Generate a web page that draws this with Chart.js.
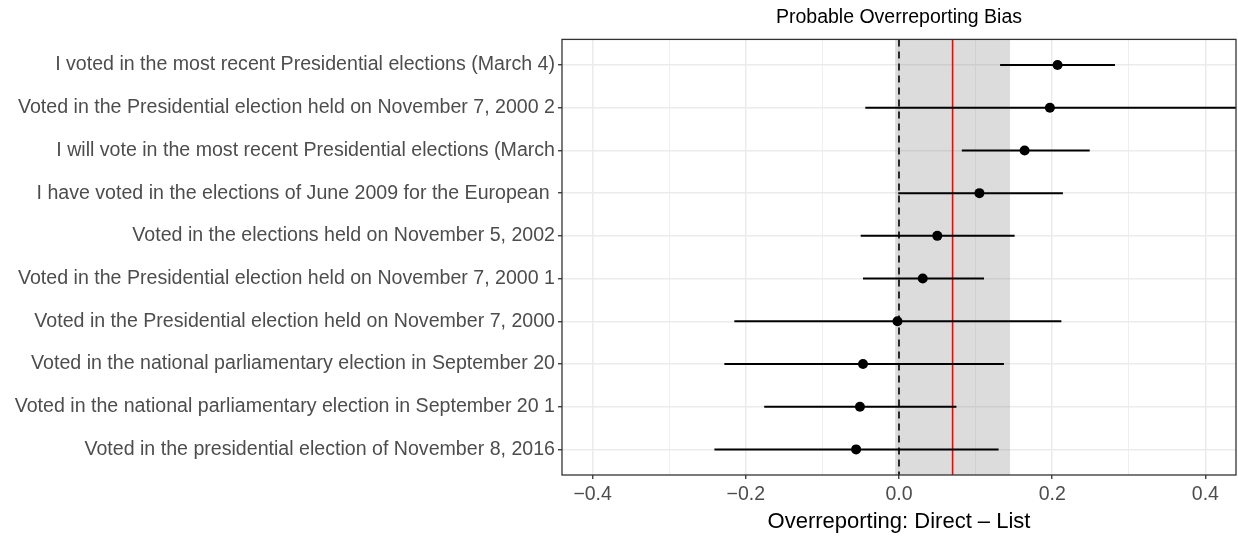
<!DOCTYPE html>
<html>
<head>
<meta charset="utf-8">
<script src="https://cdn.jsdelivr.net/npm/chart.js@4/dist/chart.umd.min.js"></script>
<style>
  html, body { margin: 0; padding: 0; background: #ffffff; }
  #wrap { width: 1238px; height: 540px; }
</style>
</head>
<body>
<div id="wrap"><canvas id="c" width="1238" height="540"></canvas></div>
<script>
// Survey items, listed bottom row first (order of the y axis levels)
const items = [
  "Voted in the presidential election of November 8, 2016",
  "Voted in the national parliamentary election in September 20 1",
  "Voted in the national parliamentary election in September 20",
  "Voted in the Presidential election held on November 7, 2000",
  "Voted in the Presidential election held on November 7, 2000 1",
  "Voted in the elections held on November 5, 2002",
  "I have voted in the elections of June 2009 for the European ",
  "I will vote in the most recent Presidential elections (March",
  "Voted in the Presidential election held on November 7, 2000 2",
  "I voted in the most recent Presidential elections (March 4)"
];

// Direct minus list estimate and its interval, per item
const estimate = [-0.056, -0.051, -0.047, -0.002, 0.031, 0.050, 0.105, 0.164, 0.197, 0.207];
const lower    = [-0.241, -0.176, -0.228, -0.215, -0.047, -0.050, -0.001, 0.082, -0.044, 0.132];
const upper    = [ 0.130,  0.075,  0.137,  0.212,  0.111,  0.151,  0.214, 0.249,  0.440, 0.282];

// Labelled x ticks and the unlabelled minor grid between them
const xMajorTicks = [-0.4, -0.2, 0.0, 0.2, 0.4];
const xMinorTicks = [-0.3, -0.1, 0.1, 0.3];

// Pooled bias estimate and its shaded interval
const meanBias = 0.07;
const biasBand = [-0.005, 0.145];

const FONT = '"Liberation Sans", Arial, Helvetica, sans-serif';

const isMajor = v => xMajorTicks.some(t => Math.abs(t - v) < 1e-9);
const fmtTick = v => (v < 0 ? '\u2212' : '') + Math.abs(v).toFixed(1);

const whiskerSets = items.map((_, i) => ({
  type: 'line',
  data: [{ x: lower[i], y: i + 1 }, { x: upper[i], y: i + 1 }],
  borderColor: '#000000',
  borderWidth: 2,
  pointRadius: 0,
  pointHoverRadius: 0,
  showLine: true,
  fill: false,
  clip: 0,
  order: 2
}));

const pointSet = {
  type: 'scatter',
  data: estimate.map((v, i) => ({ x: v, y: i + 1 })),
  backgroundColor: '#000000',
  borderWidth: 0,
  pointRadius: 5,
  pointHoverRadius: 5,
  order: 1
};

// Shaded band, zero line, mean line and panel frame
const panelDecor = {
  id: 'panelDecor',
  beforeDatasetsDraw(chart) {
    const { ctx, chartArea: a, scales: { x } } = chart;
    ctx.save();
    const b0 = x.getPixelForValue(biasBand[0]);
    const b1 = x.getPixelForValue(biasBand[1]);
    ctx.fillStyle = 'rgba(127,127,127,0.27)';
    ctx.fillRect(b0, a.top, b1 - b0, a.bottom - a.top);

    const z = x.getPixelForValue(0);
    ctx.strokeStyle = '#000000';
    ctx.lineWidth = 1.6;
    ctx.setLineDash([7, 5]);
    ctx.beginPath();
    ctx.moveTo(z, a.top);
    ctx.lineTo(z, a.bottom);
    ctx.stroke();

    const m = x.getPixelForValue(meanBias);
    ctx.setLineDash([]);
    ctx.strokeStyle = '#ff0000';
    ctx.lineWidth = 1.6;
    ctx.beginPath();
    ctx.moveTo(m, a.top);
    ctx.lineTo(m, a.bottom);
    ctx.stroke();
    ctx.restore();
  },
  afterDatasetsDraw(chart) {
    const { ctx, chartArea: a } = chart;
    ctx.save();
    ctx.strokeStyle = '#333333';
    ctx.lineWidth = 1.3;
    ctx.strokeRect(a.left, a.top, a.right - a.left, a.bottom - a.top);
    ctx.restore();
  }
};

new Chart(document.getElementById('c'), {
  type: 'scatter',
  data: { datasets: [pointSet, ...whiskerSets] },
  options: {
    responsive: false,
    animation: false,
    devicePixelRatio: 1,
    layout: { autoPadding: false, padding: { left: 0, right: 2, top: 0, bottom: 0 } },
    plugins: {
      legend: { display: false },
      tooltip: { enabled: false },
      title: {
        display: true,
        text: 'Probable Overreporting Bias',
        fullSize: false,
        color: '#000000',
        font: { family: FONT, size: 19.5, weight: 'normal' },
        padding: { top: 6, bottom: 10 }
      }
    },
    scales: {
      x: {
        type: 'linear',
        min: -0.44,
        max: 0.44,
        afterBuildTicks: s => {
          s.ticks = [...xMajorTicks, ...xMinorTicks].sort((a, b) => a - b).map(v => ({ value: v }));
        },
        afterFit: s => { s.height = 65; s.paddingLeft = 0; s.paddingRight = 0; },
        border: { display: false },
        grid: {
          color: '#EBEBEB',
          lineWidth: c => (c.tick && isMajor(c.tick.value) ? 1.5 : 0.8),
          tickColor: c => (c.tick && isMajor(c.tick.value) ? '#333333' : 'rgba(0,0,0,0)'),
          tickLength: 4,
          tickWidth: 1.3
        },
        ticks: {
          autoSkip: false,
          maxRotation: 0,
          color: '#4D4D4D',
          padding: 4,
          font: { family: FONT, size: 19.5 },
          callback: v => (isMajor(v) ? fmtTick(v) : '')
        },
        title: {
          display: true,
          text: 'Overreporting: Direct \u2013 List',
          color: '#000000',
          font: { family: FONT, size: 22 },
          padding: { top: 0, bottom: 5 }
        }
      },
      y: {
        type: 'linear',
        min: 0.4,
        max: 10.6,
        afterBuildTicks: s => {
          s.ticks = items.map((_, i) => ({ value: i + 1 }));
        },
        afterFit: s => { s.width = 562; s.paddingTop = 0; s.paddingBottom = 0; },
        border: { display: false },
        grid: {
          color: '#EBEBEB',
          lineWidth: 1.5,
          tickColor: '#333333',
          tickLength: 4,
          tickWidth: 1.3
        },
        ticks: {
          autoSkip: false,
          color: '#4D4D4D',
          padding: 3,
          font: { family: FONT, size: 19.6 },
          callback: v => items[Math.round(v) - 1]
        }
      }
    }
  },
  plugins: [panelDecor]
});
</script>
</body>
</html>
